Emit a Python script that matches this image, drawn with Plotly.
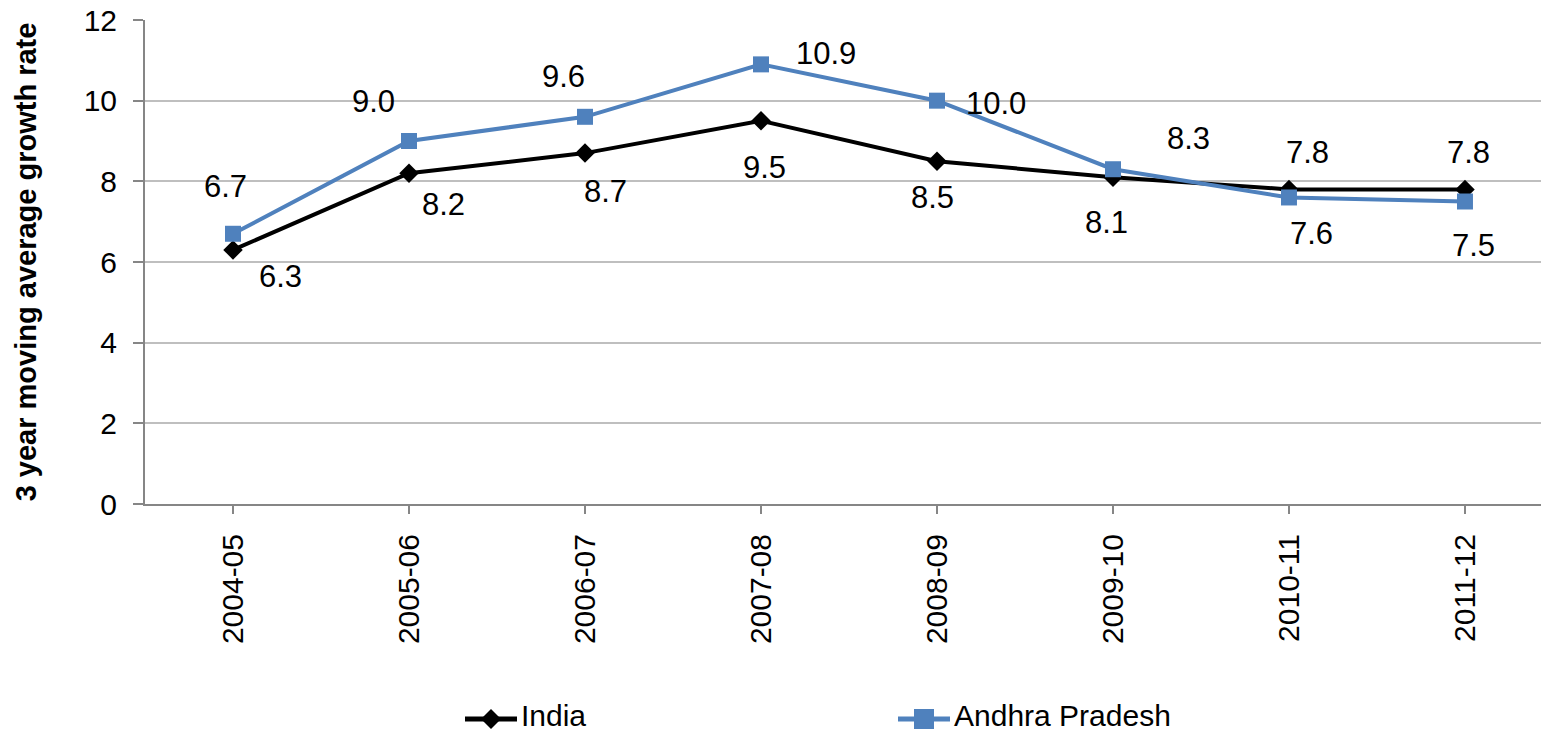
import plotly.graph_objects as go

years = ["2004-05", "2005-06", "2006-07", "2007-08", "2008-09", "2009-10", "2010-11", "2011-12"]
india = [6.3, 8.2, 8.7, 9.5, 8.5, 8.1, 7.8, 7.8]
andhra = [6.7, 9.0, 9.6, 10.9, 10.0, 8.3, 7.6, 7.5]

# label offsets (px) for each point's value text
india_off = [(47, -27), (35, -31), (21, -38), (4, -47), (-4, -36), (-6, -45), (19, 37), (4, 37)]
andhra_off = [(-8, 47), (-35, 40), (-21, 40), (65, 11), (59, -3), (76, 31), (23, -36), (9, -44)]

FONT = "Liberation Sans, Arial, sans-serif"
BLACK = "#000000"
BLUE = "#4f81bd"
W, H = 1541, 734
ML, MR, MT, MB = 145, 0, 20, 230
xi = list(range(len(years)))


def px_x(px):
    return (px - ML) / (W - ML - MR)


def px_y(py):
    return (H - MB - py) / (H - MT - MB)


fig = go.Figure()
fig.add_trace(go.Scatter(
    x=xi, y=india, name="India", mode="lines+markers",
    line=dict(color=BLACK, width=4),
    marker=dict(symbol="diamond", size=15, color=BLACK),
))
fig.add_trace(go.Scatter(
    x=xi, y=andhra, name="Andhra Pradesh", mode="lines+markers",
    line=dict(color=BLUE, width=4),
    marker=dict(symbol="square", size=16, color=BLUE),
))

ann = []
for vals, offs in ((india, india_off), (andhra, andhra_off)):
    for i, (v, (dx, dy)) in enumerate(zip(vals, offs)):
        ann.append(dict(x=i, y=v, text=f"{v:.1f}", showarrow=False,
                        xshift=dx, yshift=dy,
                        font=dict(family=FONT, size=31, color=BLACK)))

# legend drawn beneath the plot: line sample, marker, then series name
shapes = []
legend_y = px_y(719)
for name, color, x0, symbol in (("India", BLACK, 465, "diamond"),
                                ("Andhra Pradesh", BLUE, 898, "square")):
    shapes.append(dict(type="line", xref="paper", yref="paper",
                       x0=px_x(x0), x1=px_x(x0 + 52), y0=legend_y, y1=legend_y,
                       line=dict(color=color, width=5)))
    if symbol == "diamond":
        path = "M0,10 L10,0 L0,-10 L-10,0 Z"
    else:
        path = "M-10,-10 L10,-10 L10,10 L-10,10 Z"
    shapes.append(dict(type="path", xref="paper", yref="paper",
                       xsizemode="pixel", ysizemode="pixel",
                       xanchor=px_x(x0 + 26), yanchor=legend_y,
                       path=path, fillcolor=color, line=dict(width=0)))
    ann.append(dict(xref="paper", yref="paper", x=px_x(x0 + 54), y=px_y(H),
                    xanchor="left", yanchor="bottom", text=name, showarrow=False,
                    font=dict(family=FONT, size=30, color=BLACK)))

fig.update_layout(
    width=W, height=H,
    margin=dict(l=ML, r=MR, t=MT, b=MB),
    paper_bgcolor="white", plot_bgcolor="white",
    font=dict(family=FONT, size=30, color=BLACK),
    annotations=ann,
    shapes=shapes,
    showlegend=False,
    xaxis=dict(
        tickmode="array", tickvals=xi, ticktext=years, tickangle=-90,
        range=[-0.5, 7.432], showgrid=False, zeroline=False,
        showline=True, linecolor="#868686", linewidth=2,
        ticks="outside", ticklen=8, tickcolor="#868686", tickwidth=2,
        tickfont=dict(size=30), ticklabelstandoff=8,
    ),
    yaxis=dict(
        range=[0, 12], dtick=2, showgrid=True, gridcolor="#bfbfbf", gridwidth=1.5,
        zeroline=False, showline=True, linecolor="#868686", linewidth=2,
        ticks="outside", ticklen=10, tickcolor="#868686", tickwidth=2,
        tickfont=dict(size=30), ticklabelstandoff=10,
        title=dict(text="<b>3 year moving average growth rate</b>", font=dict(size=29), standoff=38),
    ),
)

fig.write_html("out.html")
